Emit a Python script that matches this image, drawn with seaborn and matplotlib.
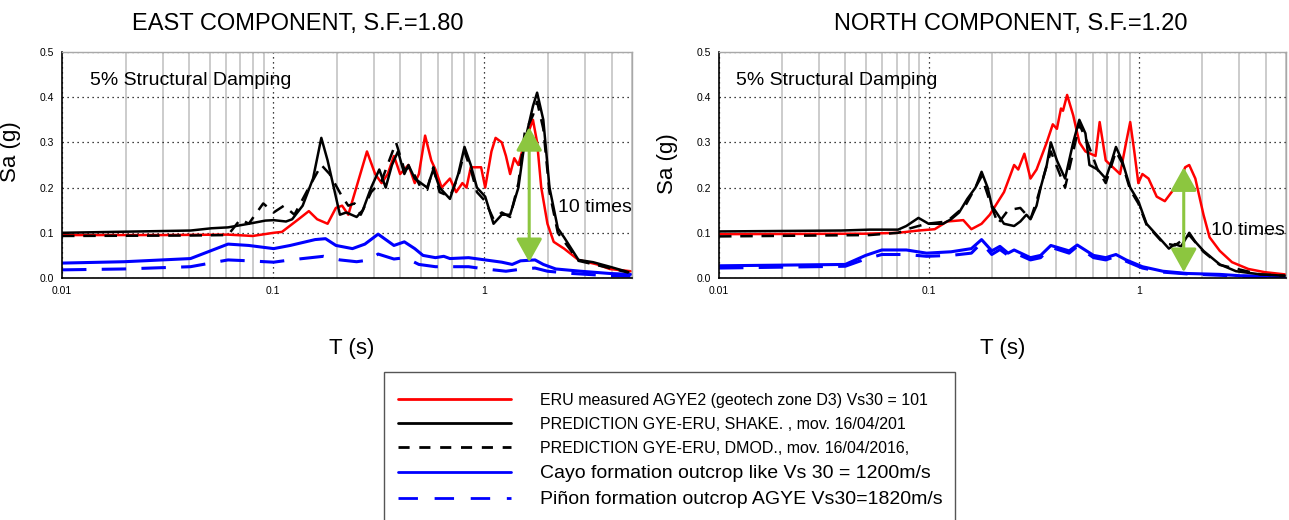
import numpy as np
import pandas as pd
import matplotlib
matplotlib.use("Agg")
import matplotlib.pyplot as plt
import matplotlib.ticker as mticker
from matplotlib.lines import Line2D
from matplotlib.patches import Rectangle
import seaborn as sns

# ---------------- data (T in s, Sa in g) ----------------
# EAST component
east_red_T = [0.01, 0.03, 0.061, 0.080, 0.1005, 0.110, 0.1318, 0.1475, 0.1615, 0.181, 0.198, 0.212, 0.2268, 0.278, 0.304, 0.326, 0.3485, 0.373, 0.399, 0.437, 0.468, 0.4895, 0.524, 0.5605, 0.5865, 0.6277, 0.687, 0.735, 0.787, 0.823, 0.862, 0.965, 1.009, 1.080, 1.130, 1.209, 1.265, 1.324, 1.385, 1.449, 1.551, 1.698, 1.777, 1.859, 1.989, 2.129, 2.384, 2.79, 3.42, 3.92, 4.92]
east_red_Sa = [0.095, 0.095, 0.096, 0.093, 0.100, 0.102, 0.130, 0.148, 0.130, 0.120, 0.155, 0.160, 0.140, 0.280, 0.230, 0.210, 0.230, 0.270, 0.230, 0.250, 0.210, 0.230, 0.315, 0.260, 0.240, 0.200, 0.220, 0.190, 0.210, 0.200, 0.245, 0.245, 0.200, 0.280, 0.310, 0.300, 0.270, 0.230, 0.265, 0.250, 0.300, 0.350, 0.300, 0.200, 0.120, 0.080, 0.065, 0.040, 0.030, 0.020, 0.015]

east_shake_T = [0.01, 0.0406, 0.051, 0.0611, 0.0766, 0.0918, 0.1005, 0.115, 0.123, 0.1379, 0.1544, 0.169, 0.181, 0.1936, 0.207, 0.2218, 0.2484, 0.2657, 0.291, 0.318, 0.341, 0.365, 0.390, 0.4178, 0.437, 0.468, 0.536, 0.573, 0.6135, 0.687, 0.752, 0.805, 0.862, 0.922, 1.009, 1.105, 1.209, 1.324, 1.449, 1.551, 1.698, 1.777, 1.901, 2.034, 2.227, 2.384, 2.79, 3.27, 3.92, 4.81]
east_shake_Sa = [0.100, 0.105, 0.110, 0.112, 0.120, 0.127, 0.128, 0.125, 0.130, 0.160, 0.220, 0.310, 0.260, 0.200, 0.140, 0.145, 0.135, 0.150, 0.200, 0.240, 0.200, 0.250, 0.280, 0.230, 0.250, 0.220, 0.200, 0.240, 0.200, 0.175, 0.230, 0.290, 0.250, 0.200, 0.180, 0.120, 0.140, 0.140, 0.200, 0.300, 0.380, 0.410, 0.350, 0.200, 0.110, 0.090, 0.040, 0.035, 0.025, 0.013]

east_dmod_T = [0.01, 0.0406, 0.0611, 0.070, 0.0766, 0.0897, 0.1005, 0.1125, 0.126, 0.1475, 0.169, 0.185, 0.212, 0.2268, 0.2427, 0.2598, 0.291, 0.326, 0.3815, 0.4178, 0.447, 0.500, 0.536, 0.573, 0.6135, 0.687, 0.752, 0.805, 0.862, 0.922, 1.009, 1.105, 1.209, 1.324, 1.449, 1.551, 1.698, 1.777, 1.901, 2.034, 2.227, 2.79, 3.92, 4.81]
east_dmod_Sa = [0.093, 0.094, 0.095, 0.130, 0.120, 0.165, 0.145, 0.160, 0.140, 0.200, 0.250, 0.230, 0.180, 0.160, 0.165, 0.140, 0.190, 0.215, 0.300, 0.240, 0.245, 0.200, 0.195, 0.245, 0.190, 0.180, 0.225, 0.280, 0.240, 0.190, 0.170, 0.130, 0.145, 0.135, 0.210, 0.320, 0.360, 0.390, 0.330, 0.190, 0.100, 0.038, 0.022, 0.012]

east_cayo_T = [0.01, 0.0197, 0.0406, 0.0611, 0.0766, 0.1005, 0.1204, 0.158, 0.1769, 0.1983, 0.2373, 0.2718, 0.314, 0.373, 0.4178, 0.468, 0.512, 0.5865, 0.642, 0.687, 0.842, 1.009, 1.209, 1.354, 1.483, 1.737, 1.901, 2.178, 2.856, 3.92, 4.92]
east_cayo_Sa = [0.033, 0.036, 0.043, 0.075, 0.072, 0.065, 0.072, 0.085, 0.087, 0.072, 0.065, 0.075, 0.097, 0.072, 0.080, 0.065, 0.050, 0.045, 0.048, 0.043, 0.045, 0.040, 0.035, 0.030, 0.038, 0.040, 0.030, 0.020, 0.015, 0.010, 0.008]

east_pinon_T = [0.01, 0.0197, 0.0406, 0.0611, 0.0766, 0.1005, 0.1204, 0.173, 0.207, 0.2484, 0.2857, 0.314, 0.373, 0.4224, 0.4895, 0.5865, 0.842, 1.009, 1.265, 1.516, 1.737, 1.989, 2.61, 3.92, 4.92]
east_pinon_Sa = [0.018, 0.020, 0.025, 0.040, 0.038, 0.035, 0.040, 0.048, 0.040, 0.036, 0.040, 0.053, 0.042, 0.045, 0.030, 0.025, 0.025, 0.020, 0.015, 0.020, 0.022, 0.015, 0.010, 0.005, 0.004]

# NORTH component
north_red_T = [0.01, 0.05, 0.0712, 0.089, 0.1064, 0.1217, 0.1455, 0.159, 0.1778, 0.1945, 0.2273, 0.254, 0.2657, 0.2842, 0.3038, 0.3248, 0.3632, 0.388, 0.406, 0.4245, 0.434, 0.454, 0.4853, 0.519, 0.5549, 0.620, 0.6486, 0.6934, 0.811, 0.867, 0.9066, 0.948, 0.991, 1.036, 1.108, 1.212, 1.325, 1.481, 1.549, 1.656, 1.731, 1.851, 2.024, 2.164, 2.42, 2.766, 3.307, 3.953, 4.94]
north_red_Sa = [0.097, 0.098, 0.100, 0.105, 0.108, 0.125, 0.128, 0.108, 0.120, 0.140, 0.190, 0.250, 0.240, 0.275, 0.220, 0.240, 0.300, 0.340, 0.330, 0.375, 0.370, 0.405, 0.360, 0.300, 0.280, 0.270, 0.345, 0.260, 0.230, 0.300, 0.345, 0.280, 0.210, 0.230, 0.220, 0.180, 0.170, 0.200, 0.210, 0.245, 0.250, 0.220, 0.140, 0.090, 0.060, 0.035, 0.020, 0.013, 0.008]

north_shake_T = [0.01, 0.0381, 0.0521, 0.0712, 0.0779, 0.089, 0.0995, 0.1164, 0.1273, 0.139, 0.152, 0.1663, 0.1778, 0.190, 0.1988, 0.2273, 0.254, 0.2718, 0.2906, 0.3038, 0.3248, 0.3396, 0.3632, 0.3798, 0.406, 0.444, 0.4853, 0.519, 0.5549, 0.580, 0.634, 0.6934, 0.7415, 0.7753, 0.829, 0.9066, 0.991, 1.084, 1.185, 1.296, 1.385, 1.481, 1.584, 1.731, 1.851, 2.024, 2.42, 2.892, 3.779, 4.94]
north_shake_Sa = [0.103, 0.105, 0.107, 0.107, 0.115, 0.133, 0.120, 0.120, 0.130, 0.145, 0.175, 0.200, 0.235, 0.200, 0.160, 0.120, 0.115, 0.125, 0.140, 0.130, 0.160, 0.200, 0.250, 0.300, 0.260, 0.220, 0.300, 0.350, 0.320, 0.250, 0.240, 0.220, 0.260, 0.290, 0.260, 0.200, 0.170, 0.120, 0.100, 0.080, 0.065, 0.075, 0.070, 0.100, 0.080, 0.060, 0.030, 0.015, 0.008, 0.005]

north_dmod_T = [0.01, 0.0521, 0.0712, 0.0814, 0.0973, 0.1217, 0.1488, 0.1778, 0.1945, 0.2126, 0.2377, 0.2718, 0.3038, 0.3248, 0.3798, 0.444, 0.519, 0.567, 0.634, 0.6934, 0.7753, 0.829, 0.9066, 0.991, 1.084, 1.296, 1.481, 1.731, 2.024, 2.42, 3.779, 4.94]
north_dmod_Sa = [0.092, 0.095, 0.100, 0.110, 0.120, 0.125, 0.160, 0.225, 0.170, 0.120, 0.150, 0.155, 0.130, 0.170, 0.280, 0.200, 0.340, 0.300, 0.240, 0.210, 0.280, 0.255, 0.195, 0.165, 0.118, 0.078, 0.072, 0.095, 0.058, 0.029, 0.008, 0.005]

north_cayo_T = [0.01, 0.0399, 0.0499, 0.0596, 0.0779, 0.0973, 0.1273, 0.159, 0.1778, 0.1988, 0.2174, 0.2377, 0.254, 0.3038, 0.3396, 0.3798, 0.4642, 0.5074, 0.6066, 0.6934, 0.7753, 0.867, 1.036, 1.296, 1.693, 2.42, 3.024, 4.94]
north_cayo_Sa = [0.027, 0.030, 0.050, 0.062, 0.062, 0.055, 0.058, 0.065, 0.085, 0.060, 0.070, 0.055, 0.062, 0.045, 0.050, 0.072, 0.060, 0.073, 0.050, 0.045, 0.052, 0.040, 0.025, 0.015, 0.010, 0.008, 0.005, 0.003]

north_pinon_T = [0.01, 0.0399, 0.0499, 0.0596, 0.0779, 0.0973, 0.1273, 0.159, 0.1778, 0.1988, 0.2174, 0.2377, 0.254, 0.3038, 0.3396, 0.3798, 0.4642, 0.5074, 0.6066, 0.6934, 0.7753, 0.867, 1.036, 1.296, 1.693, 2.42, 3.024, 4.94]
north_pinon_Sa = [0.022, 0.026, 0.042, 0.052, 0.052, 0.048, 0.050, 0.055, 0.078, 0.052, 0.063, 0.050, 0.056, 0.040, 0.045, 0.068, 0.055, 0.070, 0.045, 0.040, 0.048, 0.037, 0.022, 0.013, 0.009, 0.006, 0.004, 0.002]

titles = ["EAST COMPONENT, S.F.=1.80", "NORTH COMPONENT, S.F.=1.20"]
legend_labels = [
    "ERU measured AGYE2 (geotech zone D3) Vs30 = 101",
    "PREDICTION GYE-ERU, SHAKE. , mov. 16/04/201",
    "PREDICTION GYE-ERU, DMOD., mov. 16/04/2016,",
    "Cayo formation outcrop like Vs 30 = 1200m/s",
    "Piñon formation outcrop AGYE Vs30=1820m/s",
]
xtick_vals = [0.01, 0.1, 1]
xtick_labels = ["0.01", "0.1", "1"]
ytick_vals = [0.0, 0.1, 0.2, 0.3, 0.4, 0.5]
ytick_labels = ["0.0", "0.1", "0.2", "0.3", "0.4", "0.5"]

# arrows ("10 times"): (T, Sa top, Sa bottom), text position
arrow_east = (1.63, 0.334, 0.035)
arrow_north = (1.63, 0.245, 0.013)
text_east = (2.22, 0.157)
text_north = (2.19, 0.104)

# ---------------- style ----------------
sns.set_style("white")
plt.rcParams["font.family"] = ["Liberation Sans", "DejaVu Sans"]
plt.rcParams["text.color"] = "black"
plt.rcParams["axes.labelcolor"] = "black"
plt.rcParams["xtick.color"] = "black"
plt.rcParams["ytick.color"] = "black"

RED = "#ff0000"
BLACK = "#000000"
BLUE = "#0000ff"
GREEN = "#8cc63f"

styles = {
    "red":   dict(color=RED, lw=1.8, ls="-"),
    "shake": dict(color=BLACK, lw=1.8, ls="-"),
    "dmod":  dict(color=BLACK, lw=1.8, ls=(0, (5, 3.5))),
    "cayo":  dict(color=BLUE, lw=2.2, ls="-"),
    "pinon": dict(color=BLUE, lw=2.2, ls=(0, (8, 5))),
}

fig = plt.figure(figsize=(12.89, 5.20), dpi=100)
W, H = 1289.0, 520.0
ax1 = fig.add_axes([62 / W, 1 - 278 / H, 570 / W, 226 / H])
ax2 = fig.add_axes([719 / W, 1 - 278 / H, 567 / W, 226 / H])

panels = [
    (ax1, [("pinon", east_pinon_T, east_pinon_Sa), ("cayo", east_cayo_T, east_cayo_Sa),
           ("red", east_red_T, east_red_Sa), ("dmod", east_dmod_T, east_dmod_Sa),
           ("shake", east_shake_T, east_shake_Sa)], arrow_east, text_east),
    (ax2, [("pinon", north_pinon_T, north_pinon_Sa), ("cayo", north_cayo_T, north_cayo_Sa),
           ("red", north_red_T, north_red_Sa), ("dmod", north_dmod_T, north_dmod_Sa),
           ("shake", north_shake_T, north_shake_Sa)], arrow_north, text_north),
]

for ax, series, arr, txt in panels:
    for key, T, Sa in series:
        st = styles[key]
        df = pd.DataFrame({"T": T, "Sa": Sa})
        sns.lineplot(data=df, x="T", y="Sa", ax=ax, color=st["color"], lw=st["lw"],
                     linestyle=st["ls"], estimator=None, sort=False, legend=False)
    ax.set_xscale("log")
    ax.set_xlim(0.01, 5)
    ax.set_ylim(0, 0.5)
    ax.set_xticks(xtick_vals)
    ax.set_xticklabels(xtick_labels)
    ax.xaxis.set_minor_locator(mticker.LogLocator(base=10, subs=np.arange(2, 10), numticks=20))
    ax.xaxis.set_minor_formatter(mticker.NullFormatter())
    ax.set_yticks(ytick_vals)
    ax.set_yticklabels(ytick_labels)
    ax.tick_params(axis="both", which="major", labelsize=7.5, length=3, width=0.8,
                   direction="out", colors="black", pad=3)
    ax.tick_params(axis="x", which="minor", length=0)
    ax.grid(False)
    ax.grid(True, which="minor", axis="x", color="#c8c8c8", lw=1.3, ls="-")
    ax.grid(True, which="major", axis="x", color="black", lw=0.9, ls=(0, (1, 3)))
    ax.grid(True, which="major", axis="y", color="black", lw=0.9, ls=(0, (1, 3)))
    ax.set_axisbelow(True)
    for side in ["left", "bottom"]:
        ax.spines[side].set_color("black")
        ax.spines[side].set_linewidth(1.2)
    for side in ["top", "right"]:
        ax.spines[side].set_color("#a8a8a8")
        ax.spines[side].set_linewidth(1.0)
    ax.set_xlabel("T (s)", fontsize=16)
    ax.set_ylabel("Sa (g)", fontsize=16)
    ax.text(0.03 if ax is ax2 else 0.049, 0.876, "5% Structural Damping", transform=ax.transAxes,
            fontsize=14, va="center", ha="left")
    ax.annotate("", xy=(arr[0], arr[2]), xytext=(arr[0], arr[1]),
                arrowprops=dict(arrowstyle="<|-|>,head_length=0.9,head_width=0.5", color=GREEN,
                                lw=2.2, mutation_scale=16, shrinkA=0, shrinkB=0))
    ax.text(txt[0], txt[1], "10 times", fontsize=14, va="center", ha="left")

ax1.yaxis.set_label_coords(-0.072, 0.558)
ax2.yaxis.set_label_coords(-0.072, 0.505)
ax1.xaxis.set_label_coords(0.509, -0.265)
ax2.xaxis.set_label_coords(0.50, -0.265)

fig.text(298 / W, 1 - 24 / H, titles[0], fontsize=17, ha="center", va="center")
fig.text(1011 / W, 1 - 24 / H, titles[1], fontsize=17, ha="center", va="center")

# legend
keys = ["red", "shake", "dmod", "cayo", "pinon"]
handles = []
for k in keys:
    st = styles[k]
    ls = st["ls"]
    if k == "dmod":
        ls = (0, (4, 3.5))
    if k == "pinon":
        ls = (0, (7, 6))
    handles.append(Line2D([], [], color=st["color"], lw=2.0, ls=ls))

fig.patches.append(Rectangle((384 / W, -0.05), (955 - 384) / W, 0.05 + 1 - 372 / H,
                             transform=fig.transFigure, fill=False, edgecolor="#555555", lw=1.0))
leg = fig.legend(handles, legend_labels, loc="upper left",
                 bbox_to_anchor=(398 / W, 1 - 393 / H), frameon=False,
                 fontsize=11.5, handlelength=7.1, handletextpad=1.8, labelspacing=0.56,
                 borderaxespad=0, borderpad=0)
for i, t in enumerate(leg.get_texts()):
    t.set_fontsize(11.5 if i < 3 else 14)

fig.savefig("out.png", dpi=100)
